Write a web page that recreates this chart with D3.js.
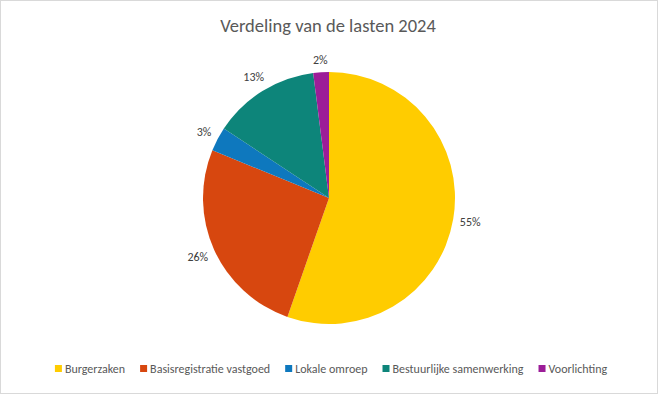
<!DOCTYPE html>
<html>
<head>
<meta charset="utf-8">
<script src="https://cdn.jsdelivr.net/npm/d3@7"></script>
<style>
  body { margin: 0; background: #fff; }
  svg { display: block; font-family: Carlito, Calibri, Lato, sans-serif; }
</style>
</head>
<body>
<svg id="chart" width="658" height="394"></svg>
<script>
// data
var categories = ["Burgerzaken", "Basisregistratie vastgoed", "Lokale omroep", "Bestuurlijke samenwerking", "Voorlichting"];
var shares = [55.3, 25.8, 3.1, 13.7, 2.0];
var labels = ["55%", "26%", "3%", "13%", "2%"];
var colors = ["#FFCC00", "#D7470F", "#0E78BE", "#0D857A", "#9C1D98"];

var width = 658, height = 394;
var cx = 329, cy = 198, radius = 126;

var svg = d3.select("#chart");

// chart frame
svg.append("rect")
    .attr("x", 0.5).attr("y", 0.5)
    .attr("width", width - 1).attr("height", height - 1)
    .style("fill", "#fff")
    .style("stroke", "#D9D9D9");

svg.append("text")
    .attr("x", 328).attr("y", 32)
    .attr("text-anchor", "middle")
    .style("font-size", "18.5px")
    .style("fill", "#595959")
    .text("Verdeling van de lasten 2024");

var data = categories.map(function(c, i) {
    return { name: c, value: shares[i], label: labels[i], color: colors[i] };
});

var pie = d3.pie().sort(null).value(function(d) { return d.value; });
var arc = d3.arc().innerRadius(0).outerRadius(radius);

var g = svg.append("g").attr("transform", "translate(" + cx + "," + cy + ")");

var arcs = pie(data);

g.selectAll("path")
    .data(arcs)
    .enter().append("path")
    .attr("d", arc)
    .style("fill", function(d) { return d.data.color; });

// outside-end labels: keep the label box a fixed gap away from the rim
var lbl = g.selectAll("text.lbl")
    .data(arcs)
    .enter().append("text")
    .attr("class", "lbl")
    .attr("text-anchor", "middle")
    .attr("dy", "0.35em")
    .style("font-size", "12px")
    .style("fill", "#404040")
    .text(function(d) { return d.data.label; });

lbl.attr("transform", function(d) {
    var a = (d.startAngle + d.endAngle) / 2;
    var s = Math.sin(a), c = Math.cos(a);
    var w = this.getComputedTextLength();
    var r = radius + 6 + Math.abs(s) * w / 2 + Math.abs(c) * 6;
    return "translate(" + (s * r) + "," + (-c * r) + ")";
});

// legend
var legend = svg.append("g").attr("class", "legend");
var x = 0;
data.forEach(function(d, i) {
    var item = legend.append("g").attr("transform", "translate(" + x + ",0)");
    item.append("rect")
        .attr("x", 0).attr("y", -4)
        .attr("width", 7).attr("height", 7)
        .style("fill", d.color);
    var t = item.append("text")
        .attr("x", 10).attr("y", 0)
        .attr("dy", "0.35em")
        .style("font-size", "12px")
        .style("fill", "#595959")
        .text(d.name);
    x += 10 + t.node().getComputedTextLength() + 15;
});
var legendWidth = x - 15;
legend.attr("transform", "translate(" + (331 - legendWidth / 2) + ",369)");
</script>
</body>
</html>
